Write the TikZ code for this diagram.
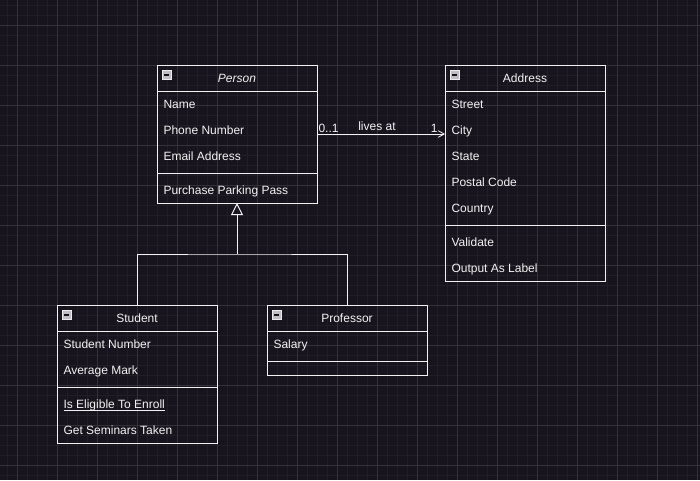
\documentclass[tikz,border=0pt]{standalone}
\usepackage{fontspec}
\setmainfont{Liberation Sans}
\usetikzlibrary{arrows.meta}

\definecolor{canvas}{RGB}{24,20,29}
\definecolor{gridminor}{RGB}{34,30,40}
\definecolor{gridmajor}{RGB}{52,49,58}
\definecolor{ink}{RGB}{242,242,242}
\definecolor{togglefill}{RGB}{190,190,196}

% static method: underline close to the baseline
\newcommand\staticop[1]{\setbox0\hbox{#1}\rlap{\rule[-1.7pt]{\wd0}{0.6pt}}\box0}

\tikzset{every picture/.style={line width=0.75pt}}
\tikzset{
  classbox/.style={draw=ink, anchor=north west, minimum width=120pt, inner sep=0pt, outer sep=0pt},
  classline/.style={draw=ink},
  classtitle/.style={anchor=base, inner sep=0pt, text=ink, font=\fontsize{9}{11}\selectfont},
  member/.style={anchor=base west, inner sep=0pt, text=ink, font=\fontsize{9}{11}\selectfont},
  endlabel/.style={inner sep=0.75pt, text=ink, font=\fontsize{9}{11}\selectfont},
  toggle/.style={draw=white!85!gray, fill=togglefill, anchor=north west, minimum size=6.5pt, inner sep=0pt,
    path picture={\draw[canvas, line width=1.1pt] ([xshift=1.4pt]path picture bounding box.west) -- ([xshift=-1.4pt]path picture bounding box.east);}},
}

\begin{document}
\begin{tikzpicture}[x=0.75pt,y=0.75pt,yscale=-1,xscale=1]
\useasboundingbox (0,0) rectangle (700,480);

%Shape: Background
\fill[canvas] (0,0) rectangle (700,480);
%Grid: minor lines
\foreach \gx in {7,17,...,697} \draw[gridminor] (\gx,0) -- (\gx,480);
\foreach \gy in {5,15,...,475} \draw[gridminor] (0,\gy) -- (700,\gy);
%Grid: major lines
\foreach \gx in {17,57,...,697} \draw[gridmajor] (\gx,0) -- (\gx,480);
\foreach \gy in {25,65,...,465} \draw[gridmajor] (0,\gy) -- (700,\gy);

%Shape: Rectangle [Person]
\node[classbox, minimum height=103.5pt] (person) at (157,65) {};
\draw[classline] (person.north west) ++(0,26) -- ++(160,0);
\draw[classline] (person.north west) ++(0,108) -- ++(160,0);
\node[toggle] (persontoggle) at (162,70) {};
% Text Node
\node[classtitle] (persontitle) at (237,82.3) {\itshape Person};
\node[member] (pname) at (163,108.3) {Name};
\node[member] (pphone) at (163,134.3) {Phone Number};
\node[member] (pemail) at (163,160.3) {Email Address};
\node[member] (pparking) at (163,194.3) {Purchase Parking Pass};

%Shape: Rectangle [Address]
\node[classbox, minimum height=162pt] (address) at (445,65) {};
\draw[classline] (address.north west) ++(0,26) -- ++(160,0);
\draw[classline] (address.north west) ++(0,160) -- ++(160,0);
\node[toggle] (addresstoggle) at (450,70) {};
% Text Node
\node[classtitle] (addresstitle) at (525,82.3) {Address};
\node[member] (astreet) at (451,108.3) {Street};
\node[member] (acity) at (451,134.3) {City};
\node[member] (astate) at (451,160.3) {State};
\node[member] (apostal) at (451,186.3) {Postal Code};
\node[member] (acountry) at (451,212.3) {Country};
\node[member] (avalidate) at (451,246.3) {Validate};
\node[member] (aoutput) at (451,272.3) {Output As Label};

%Shape: Rectangle [Student]
\node[classbox, minimum height=103.5pt] (student) at (57,305) {};
\draw[classline] (student.north west) ++(0,26) -- ++(160,0);
\draw[classline] (student.north west) ++(0,82) -- ++(160,0);
\node[toggle] (studenttoggle) at (62,310) {};
% Text Node
\node[classtitle] (studenttitle) at (137,322.3) {Student};
\node[member] (snumber) at (63,348.3) {Student Number};
\node[member] (smark) at (63,374.3) {Average Mark};
\node[member] (senroll) at (63,408.3) {\staticop{Is Eligible To Enroll}};
\node[member] (sseminars) at (63,434.3) {Get Seminars Taken};

%Shape: Rectangle [Professor]
\node[classbox, minimum height=52.5pt] (professor) at (267,305) {};
\draw[classline] (professor.north west) ++(0,26) -- ++(160,0);
\draw[classline] (professor.north west) ++(0,56) -- ++(160,0);
\node[toggle] (professortoggle) at (272,310) {};
% Text Node
\node[classtitle] (professortitle) at (347,322.3) {Professor};
\node[member] (psalary) at (273,348.3) {Salary};

%Straight Lines [generalisation]
\coordinate (fork) at (237,254);
\draw[classline] (student.north) |- (fork) -| (professor.north);
\draw[classline, -{Triangle[open, length=9pt, width=9pt]}] (fork) -- (person.south);

%Straight Lines [association]
\draw[classline, -{Straight Barb[length=4.5pt, width=5pt, line width=0.6pt]}] (person.east) -- (address.west |- person.east)
  node[endlabel, pos=0, anchor=south west] (fromcard) {0..1}
  node[endlabel, pos=1, anchor=south east, xshift=-4.5pt] (tocard) {1}
  node[endlabel, midway, anchor=base, xshift=-3pt, yshift=3pt] (liveslabel) {lives at};

\end{tikzpicture}
\end{document}
